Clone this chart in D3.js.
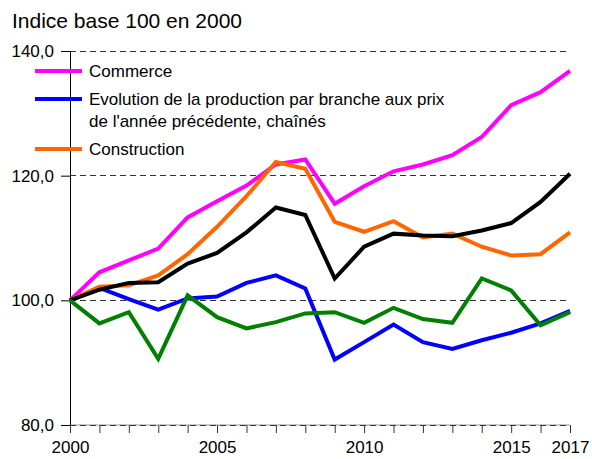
<!DOCTYPE html>
<html><head><meta charset="utf-8">
<script src="https://cdn.jsdelivr.net/npm/d3@7"></script>
<style>body{margin:0;background:#fff}svg{display:block;font-family:"Liberation Sans",Arial,sans-serif}</style>
</head><body><svg id="c" width="592" height="459"></svg>
<script>
const years = d3.range(2000, 2018);
const commerce     = [100,104.5,106.4,108.3,113.3,115.9,118.4,121.8,122.6,115.5,118.3,120.7,121.8,123.3,126.2,131.3,133.4,136.8];
const production   = [100,102.0,100.2,98.5,100.3,100.6,102.8,104.0,101.9,90.5,93.3,96.1,93.3,92.2,93.6,94.8,96.3,98.3];
const construction = [100,102.2,102.4,104.0,107.4,111.8,116.7,122.2,121.1,112.6,111.0,112.7,110.1,110.7,108.6,107.2,107.4,110.9];
const total        = [100,101.7,102.8,102.9,105.9,107.6,110.9,114.9,113.7,103.5,108.6,110.7,110.4,110.3,111.2,112.4,115.8,120.3];
const autre        = [100,96.3,98.1,90.6,100.8,97.3,95.5,96.5,97.9,98.1,96.4,98.8,97.0,96.4,103.5,101.6,96.0,98.1];
const yTicks = [80,100,120,140];
const xTickLabels = [2000,2005,2010,2015,2017];
const title = "Indice base 100 en 2000";
const legendItems = [
  {lines:["Commerce"], color:"#FF00FF"},
  {lines:["Evolution de la production par branche aux prix","de l'année précédente, chaînés"], color:"#0000FF"},
  {lines:["Construction"], color:"#FF6600"}
];
const series = [
  {values:commerce, color:"#FF00FF"},
  {values:production, color:"#0000FF"},
  {values:construction, color:"#FF6600"},
  {values:total, color:"#000000"},
  {values:autre, color:"#008000"}
];

const svg = d3.select("#c");
const x = d3.scaleLinear().domain([2000,2017]).range([70,570]);
const y = d3.scaleLinear().domain([80,140]).range([425,51]);

svg.append("text").attr("x",12).attr("y",28).attr("font-size",21).attr("fill","#000").text(title);

// gridlines
svg.append("line").attr("x1",70).attr("x2",570).attr("y1",y(80)).attr("y2",y(80)).attr("stroke","#999").attr("stroke-width",1);
svg.append("g").selectAll("line").data(yTicks).join("line")
  .attr("x1",70).attr("x2",570).attr("y1",d=>y(d)).attr("y2",d=>y(d))
  .attr("stroke","#333").attr("stroke-width",1).attr("stroke-dasharray","6,4").attr("shape-rendering","crispEdges");

// y axis
const yAxis = svg.append("g").attr("transform","translate(70,0)")
  .call(d3.axisLeft(y).tickValues(yTicks).tickSize(9).tickPadding(7).tickFormat(d=>d3.format(".1f")(d).replace(".",",")));
yAxis.select(".domain").attr("stroke","#000");
yAxis.selectAll("text").attr("font-size",17).attr("fill","#000").attr("font-family","Liberation Sans, Arial, sans-serif");

// x axis
const xAxis = svg.append("g").attr("transform",`translate(0,${y(80)})`)
  .call(d3.axisBottom(x).tickValues(years).tickSize(8).tickPadding(8).tickFormat(d=>xTickLabels.includes(d)?d:""));
xAxis.select(".domain").remove();
xAxis.selectAll("line").attr("stroke","#333");
xAxis.selectAll("text").attr("font-size",17).attr("fill","#000").attr("font-family","Liberation Sans, Arial, sans-serif");

// lines
const line = d3.line().x((d,i)=>x(years[i])).y(d=>y(d));
svg.append("g").selectAll("path").data(series).join("path")
  .attr("d",d=>line(d.values)).attr("fill","none").attr("stroke",d=>d.color)
  .attr("stroke-width",4).attr("stroke-linejoin","miter");

// legend
const legY = [71, 99, 149];
const lg = svg.append("g");
legendItems.forEach((it,i)=>{
  lg.append("line").attr("x1",35).attr("x2",82).attr("y1",legY[i]).attr("y2",legY[i]).attr("stroke",it.color).attr("stroke-width",4);
  it.lines.forEach((t,j)=>{
    lg.append("text").attr("x",89).attr("y",legY[i]+j*22).attr("dy","0.38em").attr("font-size",17).attr("fill","#000").text(t);
  });
});
</script></body></html>
